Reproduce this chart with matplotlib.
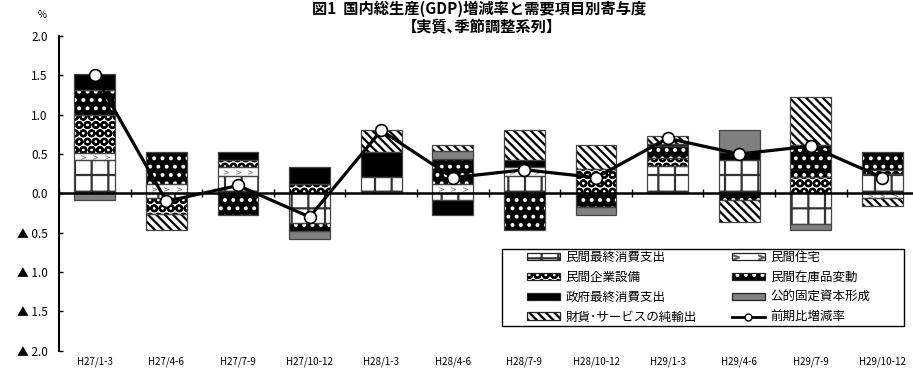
import numpy as np
import matplotlib.pyplot as plt
from matplotlib.patches import Patch, Rectangle
from matplotlib.lines import Line2D
from matplotlib.legend_handler import HandlerLine2D

plt.rcParams['font.family'] = ['Noto Sans CJK JP', 'DejaVu Sans']
plt.rcParams['hatch.linewidth'] = 1.6

quarters = ["H27/1-3", "H27/4-6", "H27/7-9", "H27/10-12", "H28/1-3", "H28/4-6",
            "H28/7-9", "H28/10-12", "H29/1-3", "H29/4-6", "H29/7-9", "H29/10-12"]

# 需要項目別寄与度 (%ポイント)
consumption = [0.42, -0.06, 0.22, -0.38, 0.21, -0.08, 0.22, 0.0, 0.35, 0.43, -0.39, 0.25]
housing     = [0.09, 0.12, 0.11, 0.0, 0.0, 0.12, 0.11, 0.0, 0.0, 0.0, 0.0, -0.06]
equipment   = [0.49, -0.2, 0.09, 0.12, 0.0, 0.0, 0.0, 0.31, 0.1, 0.0, 0.21, 0.05]
inventory   = [0.31, 0.4, -0.28, -0.1, 0.0, 0.32, -0.47, -0.17, 0.15, -0.08, 0.4, 0.22]
government  = [0.21, 0.0, 0.1, 0.21, 0.32, -0.2, 0.09, 0.0, 0.03, 0.1, 0.0, 0.0]
public_inv  = [-0.08, 0.0, 0.0, -0.1, 0.0, 0.1, 0.0, -0.11, 0.0, 0.28, -0.08, 0.0]
net_exports = [0.0, -0.21, 0.0, 0.0, 0.28, 0.08, 0.39, 0.31, 0.1, -0.29, 0.62, -0.1]

# 前期比増減率 (%)
gdp_growth = [1.5, -0.1, 0.1, -0.3, 0.8, 0.2, 0.3, 0.2, 0.7, 0.5, 0.6, 0.2]

y_ticks = [-2.0, -1.5, -1.0, -0.5, 0.0, 0.5, 1.0, 1.5, 2.0]
y_tick_labels = ["▲ 2.0", "▲ 1.5", "▲ 1.0", "▲ 0.5", "0.0", "0.5", "1.0", "1.5", "2.0"]

series_names = ["民間最終消費支出", "民間住宅", "民間企業設備", "民間在庫品変動",
                "政府最終消費支出", "公的固定資本形成", "財貨･サービスの純輸出"]
series_values = [consumption, housing, equipment, inventory,
                 government, public_inv, net_exports]
# 塗り色, ハッチ, ハッチ色
styles = [("white", "+", "#333333"),
          ("white", "", "#333333"),
          ("white", "OO", "black"),
          ("black", "..", "white"),
          ("black", "", "black"),
          ("#808080", "", "#808080"),
          ("white", "\\\\\\\\", "black")]
outline = "#444444"

fig = plt.figure(figsize=(9.13, 3.69), dpi=100)
ax = fig.add_axes([59 / 913, 1 - 350.7 / 369, 859.2 / 913, 314.7 / 369])

x = np.arange(len(quarters))
width = 0.57
pos_base = np.zeros(len(x))
neg_base = np.zeros(len(x))

for name, vals, (face, hatch, hcolor) in zip(series_names, series_values, styles):
    vals = np.asarray(vals, dtype=float)
    bottoms = np.where(vals >= 0, pos_base, neg_base)
    idx = vals != 0
    ax.bar(x[idx], vals[idx], width, bottom=bottoms[idx], color=face,
           hatch=hatch, edgecolor=hcolor, linewidth=0, zorder=2)
    ax.bar(x[idx], vals[idx], width, bottom=bottoms[idx], fill=False,
           edgecolor=outline, linewidth=0.9, zorder=3)
    if name == "民間住宅":
        # 住宅は小さな矢印模様
        for xi, v, b in zip(x[idx], vals[idx], bottoms[idx]):
            yc = b + v / 2
            ax.scatter([xi - 0.17, xi, xi + 0.17], [yc] * 3, marker=r"$>$",
                       s=14, color="#666666", linewidths=0, zorder=3)
    pos_base += np.where(vals > 0, vals, 0)
    neg_base += np.where(vals < 0, vals, 0)

ax.axhline(0, color="black", lw=1.8, zorder=4)
bounds = np.arange(len(x) + 1) - 0.5
ax.plot(bounds, np.zeros(len(bounds)), ls="none", marker="|", ms=6, mew=1,
        color="black", zorder=4)

ax.plot(x, gdp_growth, color="black", lw=2.3, marker="o", ms=8.5,
        mfc="white", mec="black", mew=1.2, zorder=5)

ax.set_xlim(-0.5, len(x) - 0.5)
ax.set_ylim(-2.0, 2.0)
ax.set_yticks(y_ticks)
ax.set_yticklabels(y_tick_labels, fontsize=8.5)
ax.set_xticks(x)
ax.set_xticklabels(quarters, fontsize=7)
ax.tick_params(axis="x", length=0, pad=4)
ax.tick_params(axis="y", direction="in", length=3, width=1, pad=8)
for side in ("top", "right", "bottom"):
    ax.spines[side].set_visible(False)
ax.spines["left"].set_linewidth(1.5)

fig.text(42 / 913, 1 - 15 / 369, "%", fontsize=7, ha="center", va="center")
fig.text(479 / 913, 1 - 9 / 369, "図1  国内総生産(GDP)増減率と需要項目別寄与度",
         fontsize=11, fontweight="bold", ha="center", va="center")
fig.text(482 / 913, 1 - 27 / 369, "【実質､季節調整系列】",
         fontsize=11, fontweight="bold", ha="center", va="center")

# 凡例
arrow_mark = Line2D([], [], ls="none", marker=r"$>$", ms=4, color="#666666")
legend_handles = {}
for name, (face, hatch, hcolor) in zip(series_names, styles):
    base = Patch(facecolor=face, hatch=hatch, edgecolor=hcolor, linewidth=0)
    frame = Patch(fill=False, edgecolor="#222222", linewidth=0.9)
    if name == "民間住宅":
        legend_handles[name] = (base, arrow_mark, frame)
    else:
        legend_handles[name] = (base, frame)
legend_handles["前期比増減率"] = Line2D([], [], color="black", lw=2, marker="o",
                                    ms=5, mfc="white", mec="black", mew=1)

order = ["民間最終消費支出", "民間企業設備", "政府最終消費支出", "財貨･サービスの純輸出",
         "民間住宅", "民間在庫品変動", "公的固定資本形成", "前期比増減率"]
fig.patches.append(Rectangle((502 / 913, 1 - 326 / 369), 402 / 913, 77.5 / 369,
                             transform=fig.transFigure, fill=False,
                             edgecolor="black", linewidth=1))
fig.legend([legend_handles[k] for k in order], order, ncol=2, loc="upper left",
           bbox_to_anchor=(527 / 913, 1 - 251 / 369), frameon=False,
           fontsize=9, handlelength=2.6, handleheight=0.55, handletextpad=0.5,
           columnspacing=2.8, labelspacing=0.55, borderpad=0, borderaxespad=0,
           handler_map={arrow_mark: HandlerLine2D(numpoints=2)})

fig.savefig("out.png", dpi=100)
